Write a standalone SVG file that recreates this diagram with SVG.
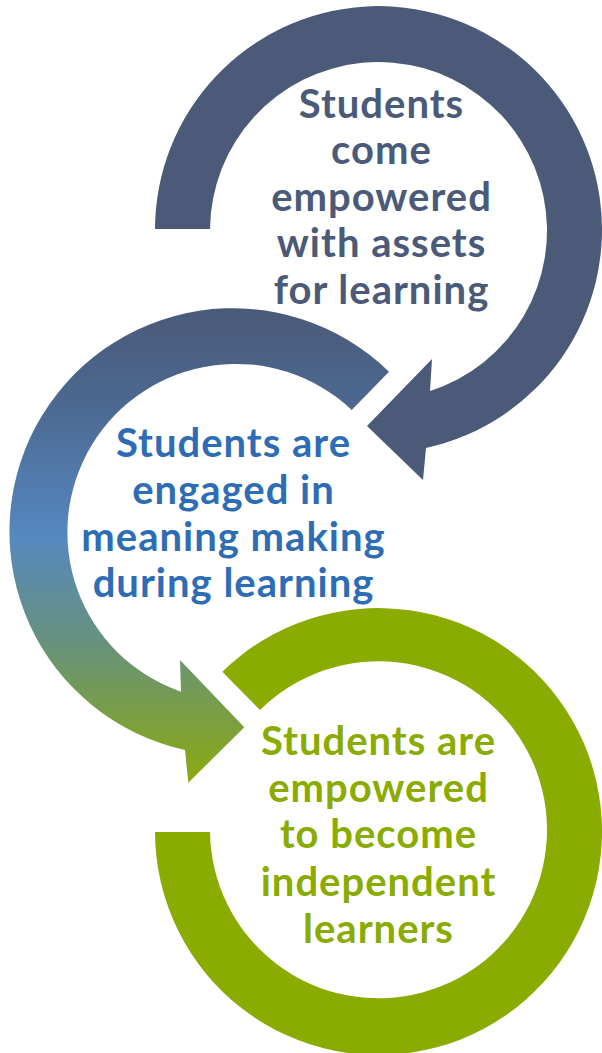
<svg xmlns="http://www.w3.org/2000/svg" width="602" height="1053" viewBox="0 0 602 1053">
  <defs>
    <linearGradient id="midFill" gradientUnits="userSpaceOnUse" x1="0" y1="307" x2="0" y2="783">
      <stop offset="0" stop-color="#4A5A78"/>
      <stop offset="0.2" stop-color="#4C6890"/>
      <stop offset="0.48" stop-color="#5588C0"/>
      <stop offset="0.7" stop-color="#67917E"/>
      <stop offset="1" stop-color="#8AAA10"/>
    </linearGradient>
    <style>
      .lbl { font-family: Lato, "Open Sans", sans-serif; font-weight: bold; font-size: 40px; letter-spacing: 1px; text-anchor: middle; }
      .top { fill: #4A5A78; }
      .mid { fill: url(#midFill); }
      .bot { fill: #8AAB00; }
      .t-top { fill: #4A5A78; }
      .t-mid { fill: #2E6DB5; }
      .t-bot { fill: #8AAB00; }
    </style>
  </defs>

  <!-- connectors: the three circular arrows -->
  <g id="connectors">
    <!-- bottom ring, open at the upper left -->
    <path class="bot" d="M222.3,671.7 A223.5,223.5 0 1 1 155,832 L210,832 A168.5,168.5 0 1 0 260,710 Z"/>
    <!-- middle arrow, counter-clockwise with head at the bottom -->
    <path class="mid" d="M389,371.7 A223.5,223.5 0 1 0 185,750 L188.3,782.7 L244.3,727.3 L180,660 L181,691.7 A168.5,168.5 0 1 1 351.7,410 Z"/>
    <!-- top arrow, clockwise with head at the lower left -->
    <path class="top" d="M155,229 A223.5,223.5 0 1 1 426,448 L423,480 L367,426 L432,359 L430,391 A168.5,168.5 0 1 0 210,229 Z"/>
  </g>

  <g id="node-assets">
    <text class="lbl t-top" x="381.5" y="118">Students</text>
    <text class="lbl t-top" x="381.5" y="164">come</text>
    <text class="lbl t-top" x="381.5" y="211">empowered</text>
    <text class="lbl t-top" x="381.5" y="257">with assets</text>
    <text class="lbl t-top" x="381.5" y="304">for learning</text>
  </g>

  <g id="node-meaning">
    <text class="lbl t-mid" x="233.5" y="457">Students are</text>
    <text class="lbl t-mid" x="233.5" y="504">engaged in</text>
    <text class="lbl t-mid" x="233.5" y="551">meaning making</text>
    <text class="lbl t-mid" x="233.5" y="597">during learning</text>
  </g>

  <g id="node-independent">
    <text class="lbl t-bot" x="378.5" y="755">Students are</text>
    <text class="lbl t-bot" x="378.5" y="802">empowered</text>
    <text class="lbl t-bot" x="378.5" y="848">to become</text>
    <text class="lbl t-bot" x="378.5" y="896">independent</text>
    <text class="lbl t-bot" x="378.5" y="943">learners</text>
  </g>
</svg>
